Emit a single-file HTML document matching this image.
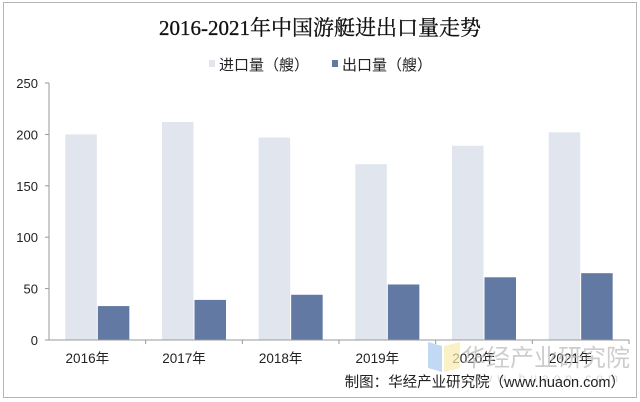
<!DOCTYPE html>
<html><head><meta charset="utf-8"><style>
body{margin:0;width:640px;height:402px;background:#fff;overflow:hidden;font-family:"Liberation Sans","Noto Sans CJK SC",sans-serif}
#wrap{position:absolute;left:3px;top:2px;width:634px;height:396px;border:1px solid #b5b5b5;box-sizing:border-box}
</style></head><body>
<div id="wrap"></div>
<svg id="chart" width="640" height="402" style="position:absolute;left:0;top:0">
<text x="320" y="35" text-anchor="middle" font-family="Liberation Serif,Noto Serif CJK SC,serif" font-weight="normal" font-size="21" fill="#111" stroke="#111" stroke-width="0.3">2016-2021年中国游艇进出口量走势</text>
<g>
<rect x="209" y="60" width="6" height="7" fill="#e0e5ee"/>
<text x="219" y="70" font-size="15" fill="#222">进口量（艘）</text>
<rect x="332" y="60" width="6" height="7" fill="#6279a3"/>
<text x="342" y="70" font-size="15" fill="#222">出口量（艘）</text>
</g>
<g id="plot"></g>
<g opacity="0.7">
<polygon points="428,342 442,346 442,372 428,368" fill="#a9c9ef"/>
<polygon points="444,346 460,342 460,368 444,372" fill="#f8ecb0"/>
<text x="462" y="366" font-size="24" fill="#b8b8b8">华经产业研究院</text>
<text x="470" y="382" font-size="12" fill="#c8c8c8" letter-spacing="5">www.huaon.com</text>
</g>
<text x="625" y="387" text-anchor="end" font-size="14.5" fill="#222">制图：华经产业研究院（www.huaon.com）</text>
</svg>
<script>
const categories=["2016年","2017年","2018年","2019年","2020年","2021年"];
const importValues=[200,212,197,171,189,202];
const exportValues=[33,39,44,54,61,65];
const yTicks=[0,50,100,150,200,250];
const ns="http://www.w3.org/2000/svg";
const g=document.getElementById("plot");
const x0=49,x1=629,yBase=340,yTop=83,yMax=250;
const bw=(x1-x0)/categories.length, barW=31.5;
const y=v=>yBase-(v/yMax)*(yBase-yTop);
function mk(t,a){const e=document.createElementNS(ns,t);for(const k in a)e.setAttribute(k,a[k]);g.appendChild(e);return e;}
yTicks.forEach(v=>{
 const t=mk("text",{x:38,y:y(v)+5,"text-anchor":"end","font-size":"13",fill:"#222"});t.textContent=v;
 
 
 const l=mk("line",{x1:x0-4,x2:x0,y1:y(v),y2:y(v),stroke:"#999"});
 
 
});
categories.forEach((c,i)=>{
 const cx=x0+bw*(i+0.5);
 const r1=mk("rect",{x:cx-barW-0.5,y:y(importValues[i]),width:barW,height:yBase-y(importValues[i]),fill:"#e0e5ee"});
 
 
 const r2=mk("rect",{x:cx+0.5,y:y(exportValues[i]),width:barW,height:yBase-y(exportValues[i]),fill:"#6279a3"});
 
 
 const t=mk("text",{x:cx-10,y:363,"text-anchor":"middle","font-size":"13.5",fill:"#222"});t.textContent=c;
 
 
 const tk=mk("line",{x1:x0+bw*(i+1),x2:x0+bw*(i+1),y1:yBase,y2:yBase+4,stroke:"#999"});
 
 
});
const ya=mk("line",{x1:x0,x2:x0,y1:yTop,y2:yBase,stroke:"#999"});


const xa=mk("line",{x1:x0,x2:x1,y1:yBase,y2:yBase,stroke:"#999"});


</script>
</body></html>
